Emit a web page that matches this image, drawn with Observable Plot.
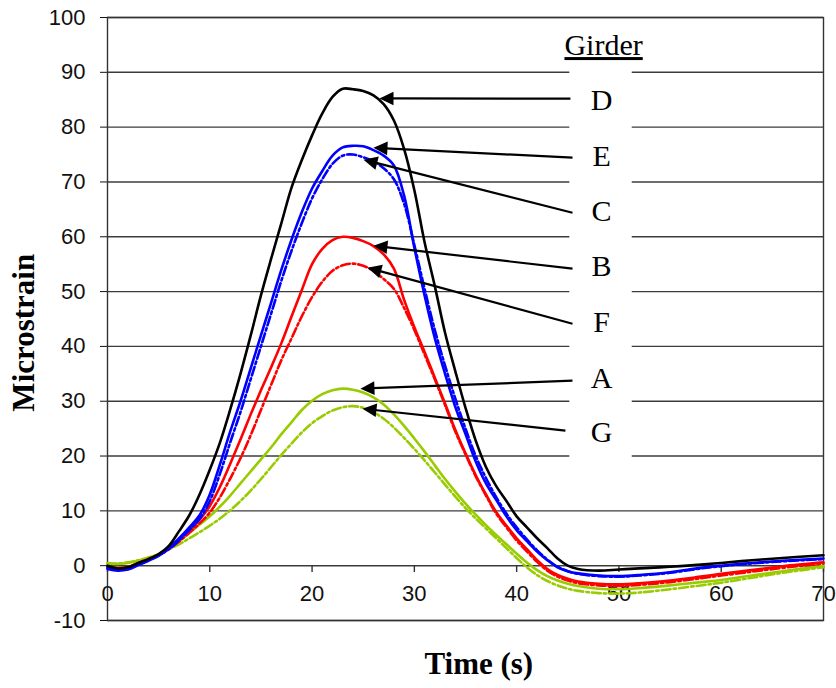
<!DOCTYPE html>
<html>
<head>
<meta charset="utf-8">
<script src="https://cdn.jsdelivr.net/npm/d3@7"></script>
<script src="https://cdn.jsdelivr.net/npm/@observablehq/plot@0.6"></script>
<style>
  html, body { margin: 0; padding: 0; background: #fff; }
  #chart svg { display: block; }
</style>
</head>
<body>
<div id="chart"></div>
<script>
// Sample times (s)
const time = [0,1,2,3,4,5,6,7,8,9,10,11,12,13,14,15,16,17,18,19,20,21,22,23,24,25,26,27,28,29,30,31,32,33,34,35,36,37,38,39,40,41,42,43,44,45,46,48,50,52,55,58,60,63,66,70];

// Microstrain per girder
const girderA = [0.4,0.3,0.5,0.9,1.4,2.1,3.2,4.5,6,7.5,9,10.8,12.8,15,17.2,19.4,21.6,24,26.2,28.4,30.1,31.3,32,32.3,32.1,31.6,30.7,29.4,27.6,25.5,23.2,20.8,18.3,15.8,13.5,11.3,9.3,7.4,5.6,3.9,2.2,0.6,-0.8,-1.9,-2.7,-3.3,-3.7,-4.2,-4.3,-4.1,-3.6,-3,-2.6,-1.8,-1,0];
const girderB = [-0.2,-0.5,-0.3,0.4,1.1,2,3.2,4.8,6.5,8.4,10.9,14.4,18.6,23,27.6,32,36.2,40.6,45.5,50.3,55,57.8,59.4,60,59.8,59.2,58.3,56.8,54.2,48.5,43.5,39,34.3,29.6,24.8,20.5,16.5,13,9.8,7.3,5,3,1,-0.6,-1.7,-2.4,-2.9,-3.3,-3.4,-3.2,-2.7,-2,-1.5,-0.8,-0.1,0.6];
const girderC = [-0.4,-0.7,-0.6,0.2,1,1.9,3,4.6,6.5,8.5,11.8,16.8,22.5,28,34,40,46,52,57.5,62.5,67,70.5,73.3,74.8,75,74.5,73.8,72.5,70.5,66,58.5,50.5,43,36.5,30.5,25,20,16,12.5,9.5,7,4.8,2.8,1.1,-0.2,-1,-1.5,-1.9,-2,-1.8,-1.3,-0.5,-0.1,0.4,0.8,1.2];
const girderD = [0,-0.5,-0.3,0.5,1.2,2.1,3.6,6.3,9.2,13,17.5,22.5,28.5,35,42,49.3,56,62.5,69,74,78.5,82.5,85.5,87,86.9,86.6,85.8,84.2,81.2,76,68.5,59,51,42.5,35.5,28.8,22.8,18,14.5,11.8,9,7,5,3.2,1.3,0,-0.6,-0.9,-0.7,-0.5,-0.2,0.2,0.5,1,1.4,1.9];
const girderE = [-0.6,-0.9,-0.7,0.1,0.9,1.8,3.2,5,7,9.2,13,18.5,24.5,30,36,42,48,54,59.5,64.5,68.8,72,74.8,76.3,76.6,76.5,75.8,74.8,73,67.5,58,49.3,41.5,35,29,24,19,15,12,9,6.5,4.5,2.6,1,-0.3,-1,-1.4,-1.8,-1.9,-1.7,-1.2,-0.4,0,0.5,0.9,1.3];
const girderF = [-0.2,-0.4,-0.2,0.5,1.2,2,3,4.4,6,7.7,9.7,12.5,15.9,19.6,23.8,28.4,33,37.5,41.5,45.5,49,51.8,53.8,54.8,55.1,54.7,53.8,52.3,50.5,47,43,38.5,34,29.3,24.5,20.3,16.3,12.8,9.5,7,4.6,2.6,0.7,-0.9,-2,-2.7,-3.2,-3.6,-3.7,-3.5,-3,-2.3,-1.8,-1.1,-0.4,0.4];
const girderG = [0.5,0.4,0.6,1,1.5,2.1,3,3.9,5,6.1,7.3,8.6,10.1,11.8,13.7,15.8,18,20.2,22.3,24.3,26,27.3,28.3,28.9,29.1,28.8,28,26.8,25.2,23.3,21.3,19.2,17,14.8,12.6,10.5,8.6,6.8,5,3.2,1.4,-0.3,-1.7,-2.8,-3.6,-4.2,-4.6,-5,-5.1,-4.9,-4.3,-3.6,-3.1,-2.2,-1.3,-0.3];

// Axis ticks
const xTicks = [0,10,20,30,40,50,60,70];
const yTicks = [-10,0,10,20,30,40,50,60,70,80,90,100];

// Drawing order and line style of each girder
const series = [
  {name: "G", values: girderG, color: "#99cc00", dashed: true},
  {name: "A", values: girderA, color: "#99cc00", dashed: false},
  {name: "F", values: girderF, color: "#ff0000", dashed: true},
  {name: "B", values: girderB, color: "#ff0000", dashed: false},
  {name: "C", values: girderC, color: "#0000ff", dashed: true},
  {name: "E", values: girderE, color: "#0000ff", dashed: false},
  {name: "D", values: girderD, color: "#000000", dashed: false}
];

// Callout labels (top to bottom) and the curve point each arrow targets
const labelNames = ["D","E","C","B","F","A","G"];
const labelY = [84.8,74.6,64.6,54.6,44.4,34.2,24.3];
const tailPts = [[45.26,85.2],[45.46,74.43],[45.46,64.39],[45.46,54.18],[45.46,44.14],[45.46,33.75],[44.77,24.63]];
const tipPts = [[26.59,85.24],[26.0,76.25],[25.03,74.06],[26.0,58.37],[25.42,54.36],[24.73,32.29],[24.93,28.64]];

// Layout
const W = 836, H = 688;
const mL = 107, mR = 13, mT = 17, mB = 68;
const xDom = [0,70], yDom = [-10,100];
const kx = (W - mL - mR) / (xDom[1] - xDom[0]);   // px per second
const ky = (H - mT - mB) / (yDom[1] - yDom[0]);   // px per microstrain

// Arrow shafts and filled heads
const headLen = 14, headHalf = 6.8;
const shafts = [], heads = [];
labelNames.forEach((g, i) => {
  const [t0, v0] = tailPts[i], [t1, v1] = tipPts[i];
  const dxp = (t1 - t0) * kx, dyp = -(v1 - v0) * ky;
  const len = Math.hypot(dxp, dyp);
  const ux = dxp / len, uy = dyp / len;
  const bx = -ux * headLen, by = -uy * headLen;           // base centre offset (px)
  const nx = -uy * headHalf, ny = ux * headHalf;          // normal (px)
  const toData = (px, py) => ({t: t1 + px / kx, v: v1 - py / ky, g});
  const end = toData(bx + ux * 2, by + uy * 2);
  shafts.push({t0, v0, t1: end.t, v1: end.v});
  heads.push(toData(0, 0), toData(bx + nx, by + ny), toData(bx - nx, by - ny));
});

const labels = labelNames.map((g, i) => ({g, y: labelY[i]}));

const lineMarks = series.map(s =>
  Plot.line(time.map((t, i) => ({t, v: s.values[i]})), {
    x: "t", y: "v",
    stroke: s.color,
    strokeWidth: 2.6,
    strokeDasharray: s.dashed ? "9,3,2.5,3" : null,
    curve: "catmull-rom"
  })
);

const chart = Plot.plot({
  width: W, height: H,
  marginLeft: mL, marginRight: mR, marginTop: mT, marginBottom: mB,
  style: {background: "#fff", fontFamily: "'Liberation Sans', Arial, sans-serif", fontSize: "22px", color: "#111"},
  x: {domain: xDom, axis: null},
  y: {domain: yDom, ticks: yTicks, tickSize: 7, tickPadding: 15, label: null, tickFormat: d => String(d)},
  marks: [
    Plot.ruleY(yTicks, {stroke: "#3c3c3c", strokeWidth: 1.4}),
    Plot.rect([0], {x1: 45.2, x2: 51.3, y1: 19.6, y2: 90.2, fill: "#fff"}),
    Plot.frame({stroke: "#333", strokeWidth: 1.4}),
    Plot.ruleX(xTicks, {x: d => d, y1: 0, y2: -1.25, stroke: "#333", strokeWidth: 1.4}),
    Plot.text(xTicks, {x: d => d, y: 0, dy: 28.5, text: d => String(d), fontSize: 22, fill: "#111"}),
    ...lineMarks,
    Plot.link(shafts, {x1: "t0", y1: "v0", x2: "t1", y2: "v1", stroke: "#000", strokeWidth: 2.2}),
    Plot.line(heads, {x: "t", y: "v", z: "g", fill: "#000", stroke: "none"}),
    Plot.text(labels, {x: 48.3, y: "y", text: "g", fontSize: 30, fontFamily: "'Liberation Serif', 'Times New Roman', serif", fill: "#000"}),
    Plot.text(["Girder"], {x: 48.5, y: 94.9, text: d => d, fontSize: 30, fontFamily: "'Liberation Serif', 'Times New Roman', serif", fill: "#000"}),
    Plot.text(["Time (s)"], {x: 36.3, y: -17.9, text: d => d, fontSize: 31, fontWeight: "bold", fontFamily: "'Liberation Serif', 'Times New Roman', serif", fill: "#000"}),
    Plot.text(["Microstrain"], {x: -8.2, y: 42.5, rotate: -90, text: d => d, fontSize: 31, fontWeight: "bold", fontFamily: "'Liberation Serif', 'Times New Roman', serif", fill: "#000"})
  ]
});

// underline the legend heading
d3.select(chart).selectAll("text").filter(function() { return this.textContent === "Girder"; })
  .attr("text-decoration", "underline");

document.getElementById("chart").append(chart);
</script>
</body>
</html>
